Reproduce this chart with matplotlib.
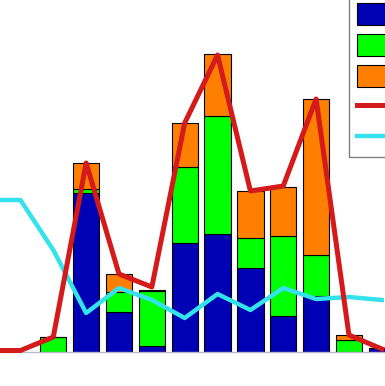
import numpy as np
import matplotlib
matplotlib.use("Agg")
import matplotlib.pyplot as plt

# stacked bar values, one per category position 0..10
positions = np.arange(11)
blue_vals = [0, 15.9, 4.0, 0.6, 10.9, 11.8, 8.4, 3.6, 5.6, 0.05, 0.4]
green_vals = [1.5, 0.4, 2.0, 5.5, 7.6, 11.8, 3.0, 8.0, 4.1, 1.2, 0]
orange_vals = [0, 2.6, 1.8, 0.1, 4.4, 6.2, 4.7, 4.9, 15.6, 0.5, 0]

# line series, positions -2..10
line_pos = np.arange(-2, 11)
red_vals = [0.15, 0.15, 1.5, 18.9, 7.8, 6.5, 22.9, 29.7, 16.1, 16.6, 25.3, 1.7, 0.3]
cyan_vals = [15.2, 15.2, 10.2, 3.9, 6.4, 5.2, 3.4, 5.8, 4.2, 6.4, 5.3, 5.5, 5.2]

# legend text lies outside the visible crop
labels = ["", "", "", "", ""]

c_blue = "#0000b4"
c_green = "#00ff00"
c_orange = "#ff8000"
c_red = "#d41a1a"
c_cyan = "#33e2ea"

fig = plt.figure(figsize=(3.85, 3.86), dpi=100)
ax = fig.add_axes([0, 34 / 386, 1, 352 / 386])

blue = np.array(blue_vals)
green = np.array(green_vals)
orange = np.array(orange_vals)

b1 = ax.bar(positions, blue, width=0.8, color=c_blue, edgecolor="black", linewidth=0.8)
b2 = ax.bar(positions, green, width=0.8, bottom=blue, color=c_green,
            edgecolor="black", linewidth=0.8)
b3 = ax.bar(positions, orange, width=0.8, bottom=blue + green, color=c_orange,
            edgecolor="black", linewidth=0.8)
l1, = ax.plot(line_pos, red_vals, color=c_red, lw=3.6, clip_on=False, zorder=4)
l2, = ax.plot(line_pos, cyan_vals, color=c_cyan, lw=3.2, clip_on=False, zorder=3)

ax.set_xlim(-53.3 / 32.85, (385 - 53.3) / 32.85)
ax.set_ylim(0, 35.2)
ax.set_xticks([])
ax.set_yticks([])
for side in ["top", "left", "right"]:
    ax.spines[side].set_visible(False)
ax.spines["bottom"].set_color("#b8bccc")
ax.spines["bottom"].set_linewidth(1.0)

leg = fig.legend([b1, b2, b3, l1, l2], labels, loc="upper left",
                 bbox_to_anchor=(349 / 385, 1 + 5 / 386), borderaxespad=0,
                 fontsize=14, handleheight=1.38, handlelength=3.5,
                 labelspacing=0.45, borderpad=0.41, fancybox=False,
                 edgecolor="#808080", framealpha=1)
leg.get_frame().set_linewidth(1.0)

fig.savefig("out.png", dpi=100)
